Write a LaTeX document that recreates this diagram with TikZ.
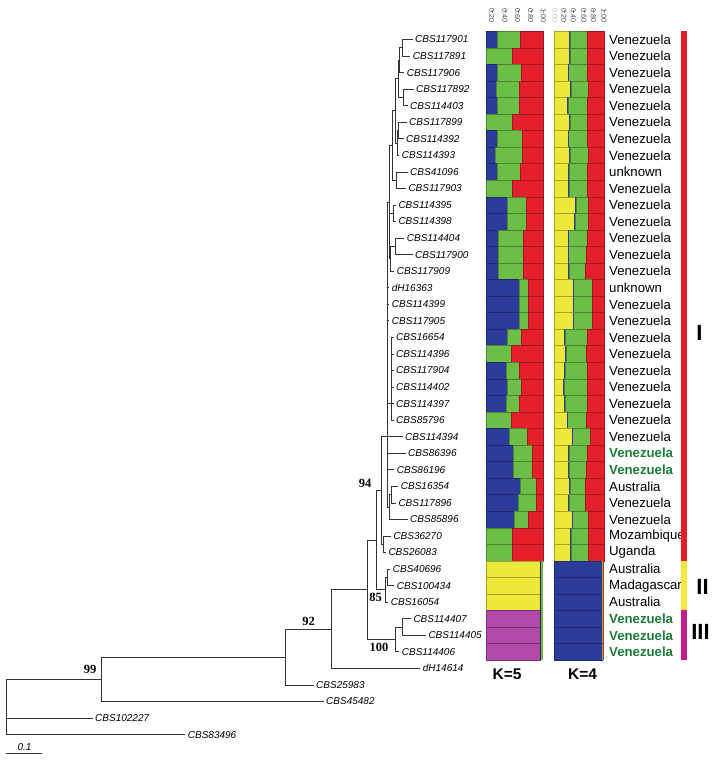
\documentclass[tikz,border=0pt]{standalone}
\usepackage{fontspec}
\setmainfont{Liberation Sans}
\newfontfamily\bootfont{Liberation Serif}
\usetikzlibrary{calc}
\definecolor{barBlue}{HTML}{2C3C9B}
\definecolor{barGreen}{HTML}{6CBE47}
\definecolor{barRed}{HTML}{E4212B}
\definecolor{barYellow}{HTML}{EEE83B}
\definecolor{barMagenta}{HTML}{B248A8}
\definecolor{grpRed}{HTML}{E31E26}
\definecolor{grpYellow}{HTML}{F1EA3A}
\definecolor{grpMagenta}{HTML}{C21E8F}
\definecolor{origGreen}{HTML}{1B7A3A}
\newcommand{\rowy}[1]{22.95+16.55*(#1)}

\begin{document}
\begin{tikzpicture}[
    x=1pt, y=-1pt,
    branch/.style={draw=black!80,line width=0.75pt},
    leaf/.style={anchor=west,inner xsep=2.5pt,inner ysep=0pt,
      font=\fontsize{10}{12}\selectfont\itshape},
    boot/.style={inner sep=0pt,font=\bootfont\bfseries\fontsize{12.5}{13}\selectfont},
    country/.style={anchor=west,inner sep=0pt,font=\fontsize{13.2}{14}\selectfont},
    origin/.style={country,text=origGreen,font=\fontsize{13.2}{14}\selectfont\bfseries},
    seg/.style={line width=0.4pt},
    tick/.style={rotate=-90,inner sep=0pt,text=black!70,font=\fontsize{7.3}{8}\selectfont},
    klabel/.style={inner sep=0pt,font=\fontsize{15.5}{16}\selectfont\bfseries},
    grplabel/.style={inner sep=0pt,font=\fontsize{22}{22}\selectfont\bfseries}
  ]
  \useasboundingbox (0,0) rectangle (719,760);

  % strain labels, one per row
  \foreach \i/\lx/\nm in {1/415/CBS117901,2/412.7/CBS117891,3/406.7/CBS117906,
      4/416/CBS117892,5/410/CBS114403,6/409/CBS117899,7/406/CBS114392,
      8/401.7/CBS114393,9/410/CBS41096,10/408.3/CBS117903,11/398.3/CBS114395,
      12/398.3/CBS114398,13/406.7/CBS114404,14/415/CBS117900,15/396.7/CBS117909,
      16/391.7/dH16363,17/391.7/CBS114399,18/391.7/CBS117905,19/396/CBS16654,
      20/396/CBS114396,21/396/CBS117904,22/396/CBS114402,23/396/CBS114397,
      24/396/CBS85796,25/405/CBS114394,26/408/CBS86396,27/396.7/CBS86196,
      28/400.7/CBS16354,29/398.3/CBS117896,30/410/CBS85896,31/393.3/CBS36270,
      32/388.3/CBS26083,33/392.7/CBS40696,34/396.7/CBS100434,35/390.7/CBS16054,
      36/413.3/CBS114407,37/428.3/CBS114405,38/401.7/CBS114406,39/422.7/dH14614,
      40/316/CBS25983,41/326/CBS45482,42/95/CBS102227,43/187.7/CBS83496}
    \node[leaf] (l\i) at (\lx-2.5,{\rowy{\i}}) {\nm};

  % internal nodes of the tree
  \coordinate (n12) at (402,{\rowy{1.5}});
  \coordinate (n123) at (399.5,{\rowy{2.25}});
  \coordinate (n45) at (403.5,{\rowy{4.5}});
  \coordinate (n15) at (398,{\rowy{3.375}});
  \coordinate (n67) at (398.5,{\rowy{6.5}});
  \coordinate (n68) at (397,{\rowy{7.25}});
  \coordinate (n18) at (395.5,{\rowy{5.3125}});
  \coordinate (n910) at (396.5,{\rowy{9.5}});
  \coordinate (n110) at (392,{\rowy{7.406}});
  \coordinate (n1112) at (393.5,{\rowy{11.5}});
  \coordinate (n1314) at (395,{\rowy{13.5}});
  \coordinate (n1315) at (390.5,{\rowy{14.25}});
  \coordinate (nG) at (389.5,{\rowy{10.83}});
  \coordinate (nH) at (391,{\rowy{23}});
  \coordinate (n2829) at (391.5,{\rowy{28.5}});
  \coordinate (nF) at (389,{\rowy{29.25}});
  \coordinate (nC) at (387,{\rowy{25}});
  \coordinate (nD) at (383,{\rowy{31.5}});
  \coordinate (n94) at (381,{\rowy{28.25}});
  \coordinate (n85a) at (387.5,{\rowy{33.5}});
  \coordinate (n85) at (385,{\rowy{34.25}});
  \coordinate (nB) at (376.7,{\rowy{31.25}});
  \coordinate (n100a) at (402,{\rowy{36.5}});
  \coordinate (n100) at (395,{\rowy{37.25}});
  \coordinate (nA) at (367,{\rowy{34.25}});
  \coordinate (n331) at (331,{\rowy{36.625}});
  \coordinate (n92) at (285,{\rowy{38.3125}});
  \coordinate (n99) at (101,{\rowy{39.656}});
  \coordinate (nR) at (6,{\rowy{41.33}});

  \foreach \p/\c in {n12/l1,n12/l2,n123/n12,n123/l3,n45/l4,n45/l5,n15/n123,n15/n45,
      n67/l6,n67/l7,n68/n67,n68/l8,n18/n15,n18/n68,n910/l9,n910/l10,n110/n18,n110/n910,
      n1112/l11,n1112/l12,n1314/l13,n1314/l14,n1315/n1314,n1315/l15,
      nG/n110,nG/n1112,nG/n1315,nH/l19,nH/l20,nH/l21,nH/l22,nH/l23,nH/l24,
      n2829/l28,n2829/l29,nF/n2829,nF/l30,
      nC/nG,nC/l16,nC/l17,nC/l18,nC/nH,nC/l25,nC/l26,nC/l27,nC/nF,
      nD/l31,nD/l32,n94/nC,n94/nD,n85a/l33,n85a/l34,n85/n85a,n85/l35,nB/n94,nB/n85,
      n100a/l36,n100a/l37,n100/n100a,n100/l38,nA/nB,nA/n100,n331/nA,n331/l39,
      n92/n331,n92/l40,n99/n92,n99/l41,nR/n99,nR/l42,nR/l43}
    \draw[branch] (\p) |- (\c);

  % bootstrap values
  \node[boot] (b94) at (365,483.5) {94};
  \node[boot] (b85) at (375.5,597) {85};
  \node[boot] (b92) at (308.5,621) {92};
  \node[boot] (b99) at (90,669) {99};
  \node[boot] (b100) at (379,647.5) {100};

  % scale bar
  \coordinate (sb0) at (6,753);
  \coordinate (sb1) at (42,753);
  \draw[branch] (sb0) -- (sb1);
  \node[inner sep=0pt,font=\fontsize{10}{12}\selectfont\itshape] (sbl) at (24.5,747) {0.1};

  % admixture bars K=5 and K=4
  \foreach \i/\bE/\gE/\yE/\hE in {1/496.7/520/569.3/587.3,2/486/511.7/569/587.3,
      3/496.7/520.7/567.7/587.3,4/496/519.3/570/588.3,5/496.7/519.3/567.3/587.3,
      6/486/512.3/569.3/586.7,7/496.7/521.7/567.7/587.3,8/495/521.7/569.3/588.3,
      9/496.7/520/568.3/587.3,10/486/511.7/568.3/586.7,11/507.3/525.7/575/588.3,
      12/507.3/525.7/574/588.3,13/498.3/523.3/567.7/586.7,14/498.3/523.3/567.7/586,
      15/498.3/523.3/568.3/585,16/519.3/528.3/572.7/591.7,17/519.3/528.3/572.7/591.7,
      18/519.3/528.3/572.7/591.7,19/506.7/520.7/564.3/586.7,20/486/511/565/586,
      21/506/519.3/564/587.3,22/507.3/520.7/563.3/586.7,23/506/519.3/564/586.7,
      24/486/511/566.7/586,25/509.3/526.7/571.7/590,26/513.3/531.7/568.3/586.7,
      27/513.3/531.7/568.3/586,28/520/536/569.3/585,29/518.3/536/568.3/585,
      30/514/528.3/571.7/588.3,31/486/511.7/570/588.3,32/486/511.7/570/588.3}{
    \pgfmathsetmacro\yt{\rowy{\i}-8.275}
    \pgfmathsetmacro\yb{\rowy{\i}+8.275}
    \path[seg,fill=barBlue,draw=barBlue!70!black] (486,\yt) rectangle (\bE,\yb);
    \path[seg,fill=barGreen,draw=barGreen!70!black] (\bE,\yt) rectangle (\gE,\yb);
    \path[seg,fill=barRed,draw=barRed!70!black] (\gE,\yt) rectangle (543.3,\yb);
    \path[seg,fill=barYellow,draw=barYellow!70!black] (554,\yt) rectangle (\yE,\yb);
    \path[seg,fill=barGreen,draw=barGreen!70!black] ({\yE+0.9},\yt) rectangle (\hE,\yb);
    \path[fill=barBlue] (\yE,\yt) rectangle ({\yE+0.9},\yb);
    \path[seg,fill=barRed,draw=barRed!70!black] (\hE,\yt) rectangle (604,\yb);
  }
  \foreach \i/\cl in {33/barYellow,34/barYellow,35/barYellow,
      36/barMagenta,37/barMagenta,38/barMagenta}{
    \pgfmathsetmacro\yt{\rowy{\i}-8.275}
    \pgfmathsetmacro\yb{\rowy{\i}+8.275}
    \path[seg,fill=\cl,draw=\cl!70!black] (486,\yt) rectangle (540,\yb);
    \path[fill=barBlue!60!black] (540,\yt) rectangle (541.2,\yb);
    \path[fill=barGreen] (541.2,\yt) rectangle (543.3,\yb);
    \path[seg,fill=barBlue,draw=barBlue!70!black] (554,\yt) rectangle (601.7,\yb);
    \path[fill=barGreen] (601.7,\yt) rectangle (603.3,\yb);
    \path[fill=barRed] (603.3,\yt) rectangle (604,\yb);
  }

  % axis tick labels
  \foreach \tx/\tl [count=\k] in {491.7/0.20,505/0.40,517.7/0.60,530.7/0.80,543.3/1.00}{
    \node[tick] (ta\k) at (\tx,15.5) {\tl};
    \draw[black!50,line width=0.4pt] (ta\k.west) ++(0,2) -- ++(0,2.5);
  }
  \node[tick,text=black!25] (tb0) at (555,15.5) {0.00};
  \foreach \tx/\tl [count=\k] in {564/0.20,573.3/0.40,584/0.60,593.3/0.80,604/1.00}{
    \node[tick] (tb\k) at (\tx,15.5) {\tl};
    \draw[black!50,line width=0.4pt] (tb\k.west) ++(0,2) -- ++(0,2.5);
  }

  \node[klabel] (k5) at (507,674) {K=5};
  \node[klabel] (k4) at (582.5,674) {K=4};

  % country of origin
  \foreach \i in {1,...,8,10,11,...,15,17,18,...,25,29,30}
    \node[country] (c\i) at (609,{\rowy{\i}}) {Venezuela};
  \foreach \i in {26,27,36,37,38}
    \node[origin] (c\i) at (609,{\rowy{\i}}) {Venezuela};
  \foreach \i/\ct in {9/unknown,16/unknown,28/Australia,31/Mozambique,32/Uganda,
      33/Australia,34/Madagascar,35/Australia}
    \node[country] (c\i) at (609,{\rowy{\i}}) {\ct};

  % groups
  \fill[grpRed] (681,31.2) rectangle (687,560.8);
  \fill[grpYellow] (681,560.8) rectangle (687,610.4);
  \fill[grpMagenta] (681,610.4) rectangle (687,660);
  \node[grplabel] (g1) at (699.5,333) {I};
  \node[grplabel] (g2) at (702.5,587) {II};
  \node[grplabel] (g3) at (700.5,632) {III};
\end{tikzpicture}
\end{document}
